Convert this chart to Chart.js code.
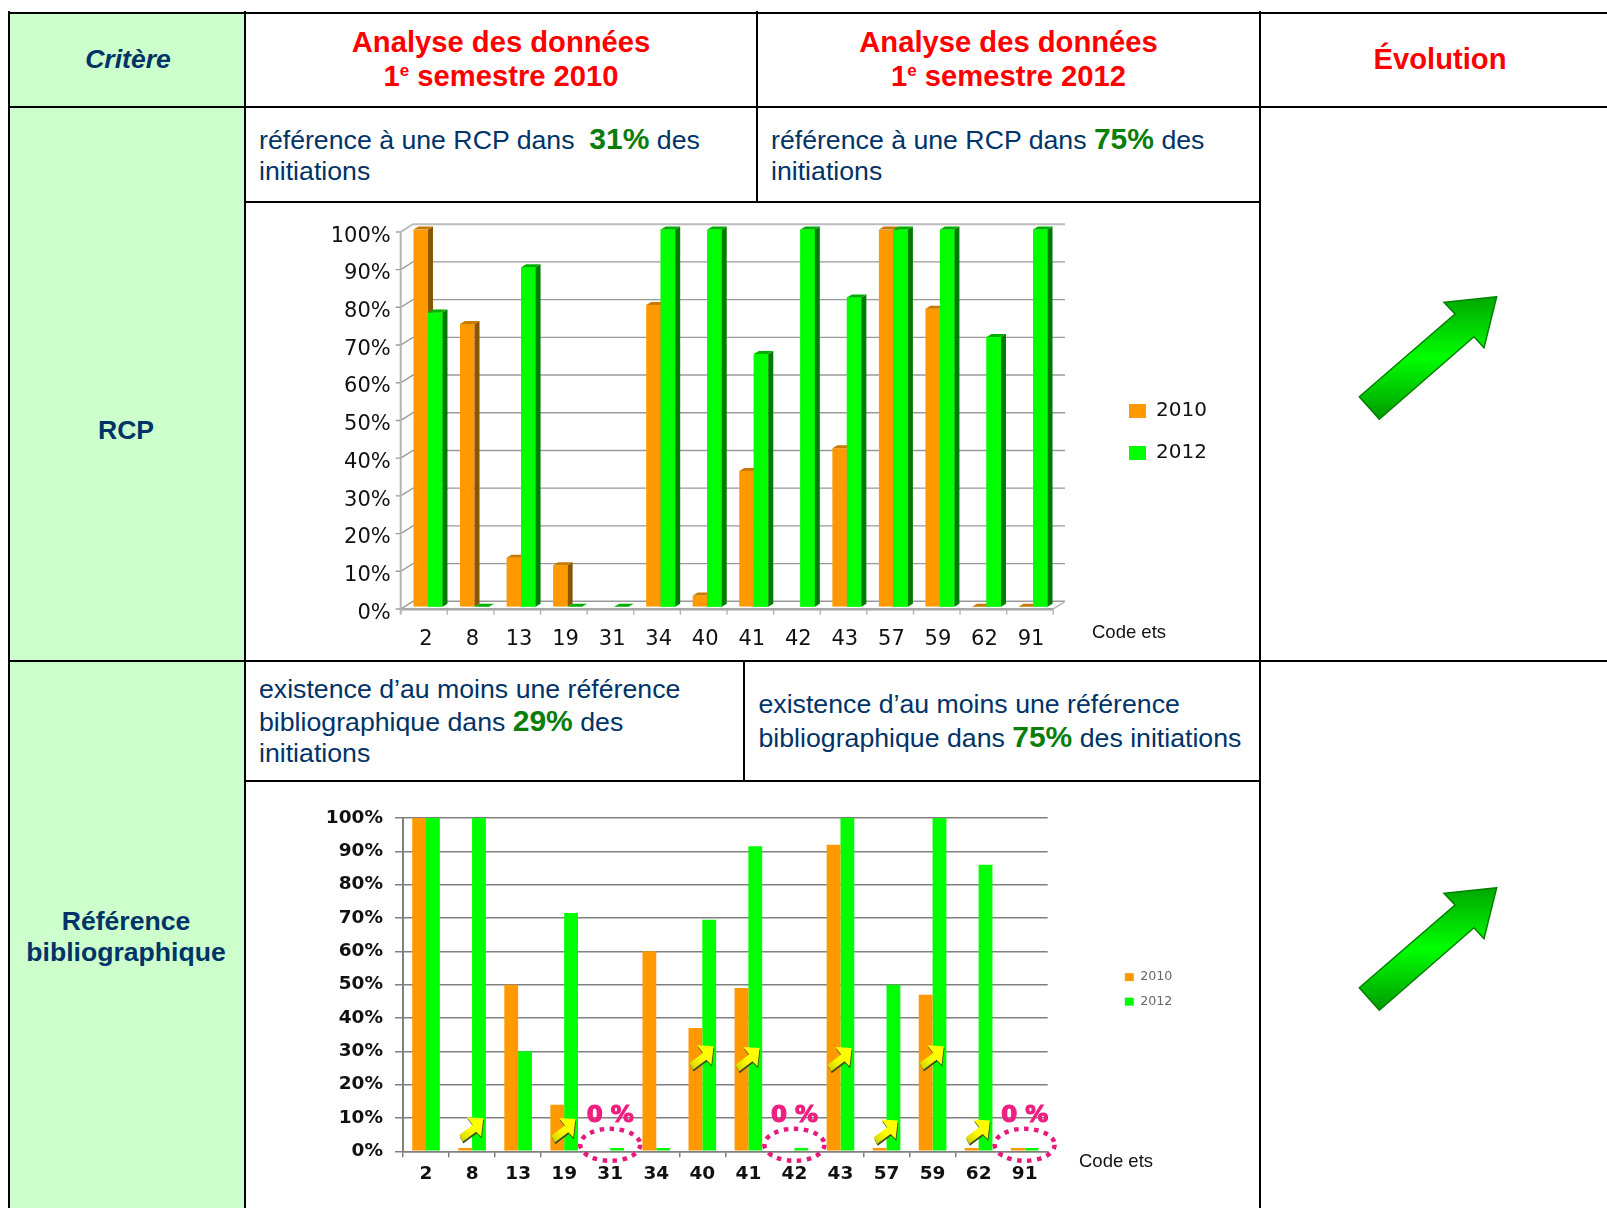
<!DOCTYPE html>
<html lang="fr">
<head>
<meta charset="utf-8">
<title>Analyse des données</title>
<script src="https://cdn.jsdelivr.net/npm/chart.js@4/dist/chart.umd.js"></script>
<style>
  html, body { margin: 0; padding: 0; background: #fff; }
  body { position: relative; width: 1607px; height: 1208px; overflow: hidden; font-family: "Liberation Sans", Arial, sans-serif; }
  .critere-col { position: absolute; left: 8px; top: 12px; width: 237px; height: 1196px; background: #ccffcc; }
  .ln { position: absolute; background: #000; }
  .txt { position: absolute; white-space: nowrap; transform: translateY(-50%); color: #003366; font-size: 26.7px; line-height: 1; }
  .mid { transform: translate(-50%, -50%); text-align: center; }
  .head { color: #ff0000; font-weight: bold; font-size: 29.2px; }
  .crit { font-weight: bold; font-size: 26.6px; }
  .txt b { color: #0a7d0a; font-size: 30px; }
  .head sup { font-size: 17px; line-height: 0; }
  canvas { position: absolute; }
  svg { position: absolute; left: 0; top: 0; }
</style>
</head>
<body>
<div class="critere-col"></div>

<!-- table rules -->
<div class="ln" style="left:8px;top:11.5px;width:1599px;height:2px"></div>
<div class="ln" style="left:8px;top:106px;width:1599px;height:2px"></div>
<div class="ln" style="left:245px;top:201px;width:1015px;height:2px"></div>
<div class="ln" style="left:8px;top:660px;width:1599px;height:2px"></div>
<div class="ln" style="left:245px;top:780px;width:1015px;height:2px"></div>
<div class="ln" style="left:7.5px;top:11px;width:2px;height:1197px"></div>
<div class="ln" style="left:244px;top:11px;width:2px;height:1197px"></div>
<div class="ln" style="left:756px;top:11px;width:2px;height:191px"></div>
<div class="ln" style="left:743px;top:660px;width:2px;height:121px"></div>
<div class="ln" style="left:1259px;top:11px;width:2px;height:1197px"></div>

<!-- header row -->
<div class="txt mid" style="left:128px;top:59px;font-weight:bold;font-style:italic;font-size:26.6px">Critère</div>
<div class="txt mid head" style="left:501px;top:43px">Analyse des données</div>
<div class="txt mid head" style="left:501px;top:77px">1<sup>e</sup> semestre 2010</div>
<div class="txt mid head" style="left:1008.5px;top:43px">Analyse des données</div>
<div class="txt mid head" style="left:1008.5px;top:77px">1<sup>e</sup> semestre 2012</div>
<div class="txt mid head" style="left:1440px;top:60px">Évolution</div>

<!-- row labels -->
<div class="txt mid crit" style="left:126px;top:429.5px">RCP</div>
<div class="txt mid crit" style="left:126px;top:920.5px">Référence</div>
<div class="txt mid crit" style="left:126px;top:951.5px">bibliographique</div>

<!-- cell texts -->
<div class="txt" style="left:259px;top:139px">référence à une RCP dans &nbsp;<b>31%</b> des</div>
<div class="txt" style="left:259px;top:171px">initiations</div>
<div class="txt" style="left:771px;top:139px">référence à une RCP dans <b>75%</b> des</div>
<div class="txt" style="left:771px;top:171px">initiations</div>
<div class="txt" style="left:259px;top:689px">existence d’au moins une référence</div>
<div class="txt" style="left:259px;top:721px">bibliographique dans <b>29%</b> des</div>
<div class="txt" style="left:259px;top:753px">initiations</div>
<div class="txt" style="left:758.5px;top:704px">existence d’au moins une référence</div>
<div class="txt" style="left:758.5px;top:737px">bibliographique dans <b>75%</b> des initiations</div>

<!-- evolution arrows -->
<svg width="1607" height="1208">
  <defs>
    <linearGradient id="evo" x1="0" y1="0" x2="0" y2="1">
      <stop offset="0" stop-color="#00a800"/>
      <stop offset="0.5" stop-color="#00ff00"/>
      <stop offset="1" stop-color="#009a00"/>
    </linearGradient>
    <polygon id="evoArrow" points="1496.7,296.7 1444,302.3 1455,314 1359.3,396.7 1379.3,419.3 1474,336.7 1484,347.7" fill="url(#evo)" stroke="#008000" stroke-width="1.5"/>
  </defs>
  <use href="#evoArrow"/>
  <use href="#evoArrow" y="591"/>
</svg>

<canvas id="chartRcp" width="1013" height="456" style="left:246px;top:203px"></canvas>
<canvas id="chartBiblio" width="1013" height="425" style="left:246px;top:783px"></canvas>

<script>
// Code ets on the x axis, same order in both charts
const codes = ['2', '8', '13', '19', '31', '34', '40', '41', '42', '43', '57', '59', '62', '91'];

// RCP: % of initiations per establishment (null = no bar at all)
const rcp2010 = [100, 75, 13, 11, null, 80, 3, 36, null, 42, 100, 79, 0, 0];
const rcp2012 = [78, 0, 90, 0, 0, 100, 100, 67, 100, 82, 100, 100, 71.5, 100];

// Référence bibliographique
const biblio2010 = [100, 1, 50, 14, null, 60, 37, 49, null, 92, 1, 47, 1, 0];
const biblio2012 = [100, 100, 30, 71.5, 0, 1, 69.5, 91.5, 0, 100, 50, 100, 86, 0];

// callouts on the second chart
const zeroCodes = ['31', '42', '91'];
const upCodes = ['8', '19', '40', '41', '43', '57', '59', '62'];
const upLevels = [6.4, 6.2, 28, 27.5, 27.5, 5.7, 28, 5.7];

const ORANGE = '#ff9900';
const GREEN = '#00ff00';
const DEPTH_X = 5;
const DEPTH_Y = 3;

const pct = (v) => v + '%';

// moves the legend box to a fixed spot, it lives inside the chart area otherwise
function placeLegend(chart, left, top) {
  chart.legend.left = left;
  chart.legend.top = top;
  chart.legend.right = left + 140;
  chart.legend.bottom = top + 240;
}

function axisNote(chart, x, y) {
  const ctx = chart.ctx;
  ctx.save();
  ctx.font = '18.5px "Liberation Sans"';
  ctx.fillStyle = '#111';
  ctx.textBaseline = 'middle';
  ctx.fillText('Code ets', x, y);
  ctx.restore();
}

function drawFace(ctx, pts, color) {
  ctx.fillStyle = color;
  ctx.beginPath();
  pts.forEach((p, i) => (i ? ctx.lineTo(p[0], p[1]) : ctx.moveTo(p[0], p[1])));
  ctx.closePath();
  ctx.fill();
}

// side and top faces of every bar of one dataset
function extrude(chart, idx, sideColor, topColor) {
  const ctx = chart.ctx;
  const meta = chart.getDatasetMeta(idx);
  const values = chart.data.datasets[idx].data;
  meta.data.forEach((bar, i) => {
    if (values[i] === null) return;
    const r = bar.x + bar.width / 2;
    const l = bar.x - bar.width / 2;
    if (bar.base - bar.y > 0.5) {
      drawFace(ctx, [[r, bar.y], [r + DEPTH_X, bar.y - DEPTH_Y], [r + DEPTH_X, bar.base - DEPTH_Y], [r, bar.base]], sideColor);
    }
    drawFace(ctx, [[l, bar.y], [l + DEPTH_X, bar.y - DEPTH_Y], [r + DEPTH_X, bar.y - DEPTH_Y], [r, bar.y]], topColor);
  });
}

// walls and floor of the 3D box behind the bars
const boxPlugin = {
  id: 'box3d',
  beforeDatasetsDraw(chart) {
    const ctx = chart.ctx;
    const y = chart.scales.y;
    const a = chart.chartArea;
    const frontL = a.left - 4;
    const frontR = a.right - 3;
    const backL = a.left + 8.3;
    const backR = a.right + 8.7;
    ctx.save();
    y.ticks.forEach((t) => {
      const p = y.getPixelForValue(t.value);
      const isTop = t.value === 100;
      ctx.strokeStyle = isTop ? '#bdbdbd' : '#9a9a9a';
      ctx.lineWidth = isTop ? 2 : 1.4;
      ctx.beginPath();
      ctx.moveTo(backR, p - 5.4);
      ctx.lineTo(backL, p - 5.4);
      ctx.lineTo(frontL, p + 2.3);
      ctx.lineTo(frontL - 5, p + 2.3);
      ctx.stroke();
    });
    // left wall edge and right end of the floor
    ctx.strokeStyle = '#b4b4b4';
    ctx.lineWidth = 2;
    ctx.beginPath();
    ctx.moveTo(frontL, y.getPixelForValue(100) + 2);
    ctx.lineTo(frontL, y.getPixelForValue(0) + 7);
    ctx.stroke();
    ctx.lineWidth = 1.4;
    ctx.beginPath();
    ctx.moveTo(frontR, a.bottom + 2.3);
    ctx.lineTo(backR, a.bottom - 5.4);
    ctx.stroke();
    ctx.restore();
  },
  afterDatasetsDraw(chart) {
    const ctx = chart.ctx;
    const a = chart.chartArea;
    const frontL = a.left - 4;
    const frontR = a.right - 3;
    ctx.save();
    extrude(chart, 0, '#8a5500', '#c87a00');
    // 2012 sits in front of the 2010 side faces
    chart.getDatasetMeta(1).controller.draw();
    extrude(chart, 1, '#007a00', '#00b000');
    ctx.strokeStyle = '#a8a8a8';
    ctx.lineWidth = 2.4;
    ctx.beginPath();
    ctx.moveTo(frontL, a.bottom + 2.6);
    ctx.lineTo(frontR, a.bottom + 2.6);
    ctx.stroke();
    ctx.strokeStyle = '#b4b4b4';
    ctx.lineWidth = 1.4;
    const step = (frontR - frontL) / codes.length;
    for (let i = 0; i <= codes.length; i++) {
      ctx.beginPath();
      ctx.moveTo(frontL + i * step, a.bottom + 3);
      ctx.lineTo(frontL + i * step, a.bottom + 8);
      ctx.stroke();
    }
    ctx.restore();
    axisNote(chart, 846, 430);
  },
  afterLayout(chart) {
    placeLegend(chart, 861, 176);
  }
};

new Chart(document.getElementById('chartRcp'), {
  type: 'bar',
  data: {
    labels: codes,
    datasets: [
      { label: '2010', data: rcp2010, backgroundColor: ORANGE },
      { label: '2012', data: rcp2012, backgroundColor: GREEN }
    ]
  },
  options: {
    responsive: false,
    animation: false,
    layout: { padding: { top: 26, right: 202.7, bottom: 0, left: 0 } },
    datasets: { bar: { barPercentage: 1, categoryPercentage: 0.623 } },
    plugins: {
      tooltip: { enabled: false },
      legend: {
        position: 'chartArea',
        align: 'start',
        labels: {
          boxWidth: 17,
          boxHeight: 14,
          padding: 22,
          color: '#111',
          font: { family: 'DejaVu Sans', size: 20 }
        }
      }
    },
    scales: {
      x: {
        grid: { display: false, drawTicks: false },
        border: { display: false },
        ticks: { color: '#111', padding: 20.5, labelOffset: -2, maxRotation: 0, font: { family: 'DejaVu Sans', size: 21 } },
        afterFit: (s) => { s.height = 52.3; }
      },
      y: {
        min: 0,
        max: 100,
        grid: { display: false, drawTicks: false },
        border: { display: false },
        ticks: { stepSize: 10, color: '#111', padding: 14, labelOffset: 6.5, callback: pct, font: { family: 'DejaVu Sans', size: 21 } },
        afterFit: (s) => { s.width = 158.7; }
      }
    }
  },
  plugins: [boxPlugin]
});

// stubby arrow used for the upward callouts
const arrowShape = [[0.51, -0.49], [-0.17, -0.53], [0.07, -0.21], [-0.49, 0.21], [-0.35, 0.49], [0.21, 0.07], [0.42, 0.28]];

function drawUpArrow(ctx, cx, cy, size) {
  const outline = (dx, dy) => arrowShape.map((p) => [cx + p[0] * size + dx, cy + p[1] * size + dy]);
  drawFace(ctx, outline(0.6, 1.8), '#3c4a20');
  const g = ctx.createLinearGradient(cx - size / 2, cy + size / 2, cx + size / 2, cy - size / 2);
  g.addColorStop(0, '#c9c900');
  g.addColorStop(0.5, '#ffff00');
  g.addColorStop(1, '#ffff00');
  drawFace(ctx, outline(0, 0), g);
}

const calloutPlugin = {
  id: 'callouts',
  afterDatasetsDraw(chart) {
    const ctx = chart.ctx;
    const x = chart.scales.x;
    const y = chart.scales.y;
    ctx.save();
    upCodes.forEach((c, i) => {
      drawUpArrow(ctx, x.getPixelForValue(codes.indexOf(c)) - 1, y.getPixelForValue(upLevels[i]), 24);
    });
    zeroCodes.forEach((c) => {
      const px = x.getPixelForValue(codes.indexOf(c));
      ctx.strokeStyle = '#e8197d';
      ctx.lineWidth = 4.5;
      ctx.setLineDash([4.5, 5.5]);
      ctx.beginPath();
      ctx.ellipse(px, y.getPixelForValue(0) - 6.5, 30, 16, 0, 0, Math.PI * 2);
      ctx.stroke();
      ctx.setLineDash([]);
      ctx.fillStyle = '#ee1f80';
      ctx.strokeStyle = '#ee1f80';
      ctx.lineWidth = 1.2;
      ctx.font = 'bold 23px "DejaVu Sans"';
      ctx.textAlign = 'center';
      ctx.textBaseline = 'middle';
      ctx.fillText('0 %', px, y.getPixelForValue(10.6));
      ctx.strokeText('0 %', px, y.getPixelForValue(10.6));
    });
    ctx.restore();
    axisNote(chart, 833, 378.7);
  },
  afterLayout(chart) {
    placeLegend(chart, 867, 176);
  }
};

new Chart(document.getElementById('chartBiblio'), {
  type: 'bar',
  data: {
    labels: codes,
    datasets: [
      { label: '2010', data: biblio2010, backgroundColor: ORANGE, minBarLength: 3.3 },
      { label: '2012', data: biblio2012, backgroundColor: GREEN, minBarLength: 3.3 }
    ]
  },
  options: {
    responsive: false,
    animation: false,
    layout: { padding: { top: 35, right: 211.3, bottom: 0, left: 0 } },
    datasets: { bar: { barPercentage: 1, categoryPercentage: 0.6 } },
    plugins: {
      tooltip: { enabled: false },
      legend: {
        position: 'chartArea',
        align: 'start',
        labels: {
          boxWidth: 9,
          boxHeight: 8,
          padding: 11.8,
          color: '#666',
          font: { family: 'DejaVu Sans', size: 12.7 }
        }
      }
    },
    scales: {
      x: {
        grid: { drawOnChartArea: false, color: '#808080', lineWidth: 1.5, tickLength: 6 },
        border: { color: '#808080', width: 1.5 },
        ticks: { color: '#111', padding: 5.5, maxRotation: 0, font: { family: 'DejaVu Sans', size: 18.5, weight: 'bold' } },
        afterFit: (s) => { s.height = 56.7; }
      },
      y: {
        min: 0,
        max: 100,
        grid: { color: '#808080', lineWidth: 1.5, tickLength: 8 },
        border: { color: '#808080', width: 2 },
        ticks: { stepSize: 10, color: '#111', padding: 12, callback: pct, font: { family: 'DejaVu Sans', size: 18.5, weight: 'bold' } },
        afterFit: (s) => { s.width = 157; }
      }
    }
  },
  plugins: [calloutPlugin]
});
</script>
</body>
</html>
